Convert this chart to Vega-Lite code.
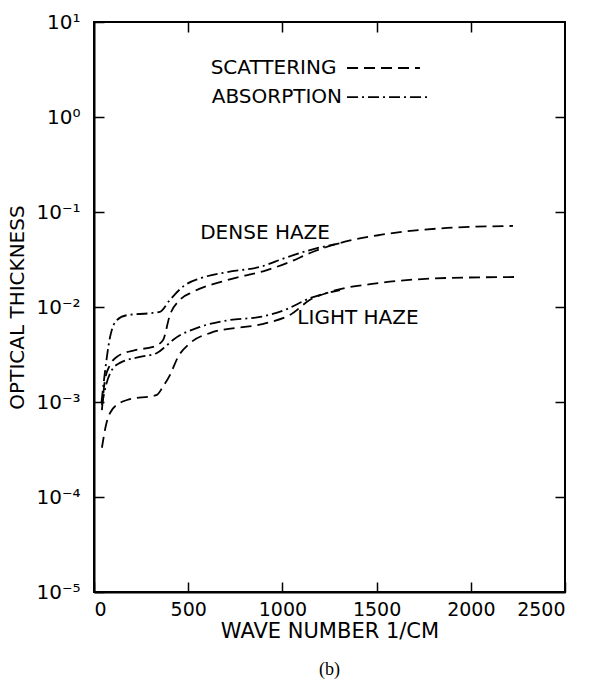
{
  "$schema": "https://vega.github.io/schema/vega-lite/v6.json",
  "autosize": "none",
  "width": 471,
  "height": 570,
  "padding": {"left": 94, "top": 22, "right": 26, "bottom": 88},
  "background": "white",
  "config": {
    "view": {"stroke": "black", "strokeWidth": 2},
    "axis": {"domainColor": "black", "domainWidth": 2, "tickColor": "black", "tickWidth": 1.5, "grid": false, "labelColor": "black", "titleColor": "black", "labelFont": "DejaVu Sans", "titleFont": "DejaVu Sans", "labelFontSize": 20, "titleFontSize": 20, "titleFontWeight": "normal"}
  },
  "title": {"text": "(b)", "orient": "bottom", "font": "Liberation Serif", "fontSize": 18, "fontWeight": "normal", "color": "black", "offset": 20},
  "datasets": {
    "lines": [
      {"s": "DS", "k": "scattering", "wn": 42, "v": 0.00082},
      {"s": "DS", "k": "scattering", "wn": 58, "v": 0.0017},
      {"s": "DS", "k": "scattering", "wn": 85, "v": 0.00245},
      {"s": "DS", "k": "scattering", "wn": 122, "v": 0.0030},
      {"s": "DS", "k": "scattering", "wn": 218, "v": 0.00352},
      {"s": "DS", "k": "scattering", "wn": 313, "v": 0.0038},
      {"s": "DS", "k": "scattering", "wn": 366, "v": 0.00447},
      {"s": "DS", "k": "scattering", "wn": 403, "v": 0.00824},
      {"s": "DS", "k": "scattering", "wn": 456, "v": 0.0119},
      {"s": "DS", "k": "scattering", "wn": 525, "v": 0.0144},
      {"s": "DS", "k": "scattering", "wn": 706, "v": 0.0192},
      {"s": "DS", "k": "scattering", "wn": 918, "v": 0.0245},
      {"s": "DS", "k": "scattering", "wn": 1040, "v": 0.0298},
      {"s": "DS", "k": "scattering", "wn": 1147, "v": 0.037},
      {"s": "DS", "k": "scattering", "wn": 1306, "v": 0.0472},
      {"s": "DS", "k": "scattering", "wn": 1518, "v": 0.0573},
      {"s": "DS", "k": "scattering", "wn": 1874, "v": 0.0679},
      {"s": "DS", "k": "scattering", "wn": 2224, "v": 0.0713},
      {"s": "DA", "k": "absorption", "wn": 40, "v": 0.0010},
      {"s": "DA", "k": "absorption", "wn": 53, "v": 0.0017},
      {"s": "DA", "k": "absorption", "wn": 85, "v": 0.0048},
      {"s": "DA", "k": "absorption", "wn": 122, "v": 0.0073},
      {"s": "DA", "k": "absorption", "wn": 175, "v": 0.0082},
      {"s": "DA", "k": "absorption", "wn": 297, "v": 0.0086},
      {"s": "DA", "k": "absorption", "wn": 350, "v": 0.0089},
      {"s": "DA", "k": "absorption", "wn": 403, "v": 0.0119},
      {"s": "DA", "k": "absorption", "wn": 483, "v": 0.017},
      {"s": "DA", "k": "absorption", "wn": 563, "v": 0.020},
      {"s": "DA", "k": "absorption", "wn": 706, "v": 0.0233},
      {"s": "DA", "k": "absorption", "wn": 881, "v": 0.0264},
      {"s": "DA", "k": "absorption", "wn": 1014, "v": 0.0328},
      {"s": "DA", "k": "absorption", "wn": 1147, "v": 0.0398},
      {"s": "DA", "k": "absorption", "wn": 1306, "v": 0.047},
      {"s": "LA", "k": "absorption", "wn": 42, "v": 0.00093},
      {"s": "LA", "k": "absorption", "wn": 64, "v": 0.00151},
      {"s": "LA", "k": "absorption", "wn": 96, "v": 0.00219},
      {"s": "LA", "k": "absorption", "wn": 138, "v": 0.00258},
      {"s": "LA", "k": "absorption", "wn": 244, "v": 0.00298},
      {"s": "LA", "k": "absorption", "wn": 334, "v": 0.00328},
      {"s": "LA", "k": "absorption", "wn": 377, "v": 0.0038},
      {"s": "LA", "k": "absorption", "wn": 419, "v": 0.0045},
      {"s": "LA", "k": "absorption", "wn": 563, "v": 0.00617},
      {"s": "LA", "k": "absorption", "wn": 722, "v": 0.0073},
      {"s": "LA", "k": "absorption", "wn": 881, "v": 0.00785},
      {"s": "LA", "k": "absorption", "wn": 1014, "v": 0.00933},
      {"s": "LA", "k": "absorption", "wn": 1147, "v": 0.0124},
      {"s": "LA", "k": "absorption", "wn": 1306, "v": 0.0151},
      {"s": "LS", "k": "scattering", "wn": 42, "v": 0.00033},
      {"s": "LS", "k": "scattering", "wn": 64, "v": 0.000575},
      {"s": "LS", "k": "scattering", "wn": 85, "v": 0.000766},
      {"s": "LS", "k": "scattering", "wn": 138, "v": 0.00098},
      {"s": "LS", "k": "scattering", "wn": 175, "v": 0.00105},
      {"s": "LS", "k": "scattering", "wn": 334, "v": 0.00119},
      {"s": "LS", "k": "scattering", "wn": 366, "v": 0.00145},
      {"s": "LS", "k": "scattering", "wn": 403, "v": 0.00192},
      {"s": "LS", "k": "scattering", "wn": 446, "v": 0.00298},
      {"s": "LS", "k": "scattering", "wn": 510, "v": 0.00417},
      {"s": "LS", "k": "scattering", "wn": 616, "v": 0.00532},
      {"s": "LS", "k": "scattering", "wn": 918, "v": 0.00679},
      {"s": "LS", "k": "scattering", "wn": 1040, "v": 0.00824},
      {"s": "LS", "k": "scattering", "wn": 1147, "v": 0.0119},
      {"s": "LS", "k": "scattering", "wn": 1253, "v": 0.0144},
      {"s": "LS", "k": "scattering", "wn": 1518, "v": 0.0179},
      {"s": "LS", "k": "scattering", "wn": 1874, "v": 0.0202},
      {"s": "LS", "k": "scattering", "wn": 2261, "v": 0.0207},
      {"s": "KEY_S", "k": "scattering", "wn": 1343, "v": 3.28},
      {"s": "KEY_S", "k": "scattering", "wn": 1730, "v": 3.28},
      {"s": "KEY_A", "k": "absorption", "wn": 1343, "v": 1.62},
      {"s": "KEY_A", "k": "absorption", "wn": 1778, "v": 1.62}
    ],
    "labels": [
      {"t": "SCATTERING", "wn": 953, "v": 3.28},
      {"t": "ABSORPTION", "wn": 971, "v": 1.62},
      {"t": "DENSE HAZE", "wn": 908, "v": 0.060},
      {"t": "LIGHT HAZE", "wn": 1401, "v": 0.00766}
    ]
  },
  "layer": [
    {
      "data": {"name": "lines"},
      "mark": {"type": "line", "color": "black", "strokeWidth": 1.8, "interpolate": "monotone"},
      "encoding": {
        "x": {"field": "wn", "type": "quantitative", "scale": {"domain": [0, 2500], "nice": false, "zero": false},
              "axis": {"orient": "bottom", "values": [0, 500, 1000, 1500, 2000, 2500], "format": "d", "tickSize": -10, "labelPadding": 18, "labelFontSize": 19, "title": "WAVE NUMBER 1/CM", "titleFontSize": 21, "titlePadding": 1}},
        "y": {"field": "v", "type": "quantitative", "scale": {"type": "log", "domain": [0.00001, 10], "nice": false},
              "axis": {"orient": "left", "values": [0.00001, 0.0001, 0.001, 0.01, 0.1, 1, 10], "tickSize": -10, "labelPadding": 24, "labelFontSize": 20,
                       "labelExpr": "'10' + ['⁻⁵','⁻⁴','⁻³','⁻²','⁻¹','⁰','¹'][round(log(datum.value)/LN10)+5]",
                       "title": "OPTICAL THICKNESS", "titleFontSize": 20, "titlePadding": 8}},
        "detail": {"field": "s", "type": "nominal"},
        "strokeDash": {"field": "k", "type": "nominal", "scale": {"domain": ["scattering", "absorption"], "range": [[11, 6], [11, 4, 2, 4]]}, "legend": null}
      }
    },
    {
      "data": {"name": "labels"},
      "mark": {"type": "text", "font": "DejaVu Sans", "fontSize": 20, "color": "black", "align": "center", "baseline": "middle"},
      "encoding": {
        "x": {"field": "wn", "type": "quantitative", "scale": {"domain": [0, 2500], "nice": false, "zero": false},
              "axis": {"orient": "top", "values": [500, 1000, 1500, 2000], "tickSize": -10, "labels": false, "title": null, "domain": false}},
        "y": {"field": "v", "type": "quantitative", "scale": {"type": "log", "domain": [0.00001, 10], "nice": false},
              "axis": {"orient": "right", "values": [0.0001, 0.001, 0.01, 0.1, 1], "tickSize": -10, "labels": false, "title": null, "domain": false}},
        "text": {"field": "t", "type": "nominal"}
      }
    }
  ],
  "resolve": {"axis": {"x": "independent", "y": "independent"}}
}
